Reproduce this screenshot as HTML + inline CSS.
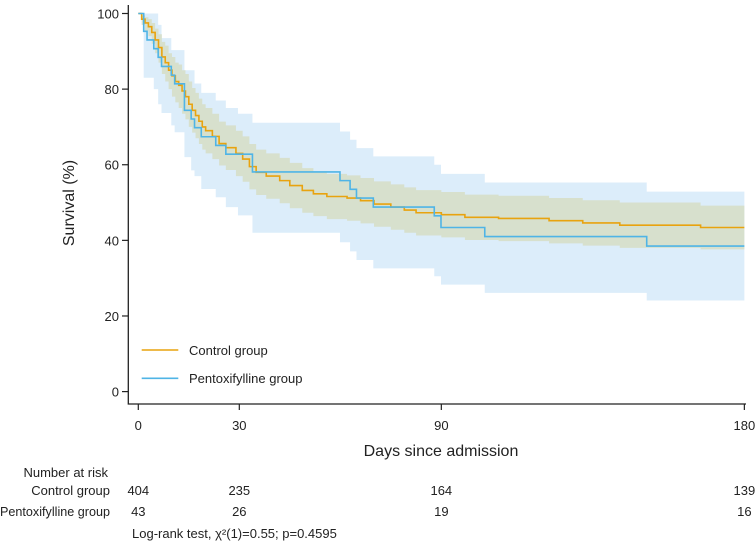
<!DOCTYPE html>
<html><head><meta charset="utf-8"><style>
html,body{margin:0;padding:0;background:#fff;}
svg{display:block;font-family:"Liberation Sans",Arial,sans-serif;}
</style></head><body>
<svg id="chart" width="756" height="542" viewBox="0 0 756 542"></svg>
<script>
const xTicks=[0,30,90,180];
const yTicks=[0,20,40,60,80,100];
// Control group KM estimate (day, survival %)
const ctrlDays=[0,1,2,3,4,5,6,7,8,9,10,11,12,13,14,15,16,17,18,19,20,22,24,26,29,31,33,35,38,42,45,48.7,52,56,62,66,70,75,79,82.5,90,97,107,122,132,143,167,180];
const ctrlSurv=[100,98.5,97.5,96.5,95,93,91,88.5,87,85,83.5,82,81,79.5,78,76,74.4,73,71.5,70,69,67.5,65.6,64.5,63,61.5,59.5,58,57,55.8,54.5,53.2,52.3,51.6,51.2,50.5,49.6,48.8,48,47.3,46.8,46.1,45.8,45.2,44.6,44,43.4,43.4];
const ctrlLow=[100,97,95.5,94,92,89.5,87,84,82,80,78,76.5,75,73.5,72,70,68.5,67,65.5,64,63,61.5,59.8,58.6,57,55.5,53.5,52,51,49.8,48.5,47.3,46.4,45.6,45.2,44.5,43.6,42.8,42,41.3,40.8,40.1,39.8,39.2,38.6,38,37.6,37.6];
const ctrlHigh=[100,99.5,99,98.5,97.5,96,94.5,92.5,91.5,89.5,88.5,87,86.5,85,84,82,80.3,79,77.5,76,75,73.5,71.4,70.4,69,67.5,65.5,64,63,61.8,60.5,59.1,58.2,57.6,57.2,56.5,55.6,54.8,54,53.3,52.8,52.1,51.8,51.2,50.6,50,49.2,49.2];
// Pentoxifylline group
const ptxDays=[0,1.6,2.6,4.6,5.9,6.9,9.8,10.8,13.7,15.7,16.7,18.7,23,26,33.9,59.9,62.9,64.8,69.8,87.9,89.9,102.9,151,180];
const ptxSurv=[100,95.3,93.0,90.7,88.4,86.0,83.7,81.4,74.4,72.1,69.8,67.4,65.1,62.8,58.1,55.8,53.5,51.2,48.8,46.5,43.4,41.0,38.5,38.5];
const ptxCiDays=[1.6,4.6,5.9,6.9,9.8,10.8,13.7,15.7,16.7,18.7,23,26,29.6,33.9,59.9,62.9,64.8,69.8,87.9,89.9,102.9,151,180];
const ptxLow=[83,80,76,73.7,70.4,68.6,62,58.5,57,53.6,51.4,48.8,46.6,42,39.5,37.1,34.8,32.6,30.5,28.3,26.1,24.1,24.1];
const ptxHigh=[100,100,97,93.5,90.3,90.3,85,85,81.5,79,77,75,73.5,71.1,68.8,66.6,64.4,62.2,60,57.6,55.3,52.9,52.9];
const riskCtrl=[404,235,164,139];
const riskPtx=[43,26,19,16];

const X0=138.3,PXD=3.367,Y0=391.6,PYU=3.781;
const xs=d=>X0+d*PXD, ys=v=>Y0-v*PYU;
const svg=document.getElementById('chart');
const NS='http://www.w3.org/2000/svg';
function mk(tag,attrs,parent){const e=document.createElementNS(NS,tag);for(const k in attrs)e.setAttribute(k,attrs[k]);(parent||svg).appendChild(e);return e;}
function stepPath(days,vals){let d='M'+xs(days[0])+','+ys(vals[0]);for(let i=1;i<days.length;i++){d+='H'+xs(days[i])+'V'+ys(vals[i]);}return d;}
function bandPath(days,lo,hi){let top='M'+xs(days[0])+','+ys(hi[0]);for(let i=1;i<days.length;i++){top+='H'+xs(days[i])+'V'+ys(hi[i]);}
 let bot='V'+ys(lo[lo.length-1]);for(let i=days.length-1;i>0;i--){bot+='H'+xs(days[i])+'V'+ys(lo[i-1]);}bot+='H'+xs(days[0])+'Z';return top+bot;}

let e;
e=mk('path',{d:bandPath(ptxCiDays,ptxLow,ptxHigh),fill:'#dcedfa'});


e=mk('path',{d:bandPath(ctrlDays,ctrlLow,ctrlHigh),fill:'#d7e0cd'});


e=mk('path',{d:stepPath(ctrlDays,ctrlSurv),fill:'none',stroke:'#e8a30f','stroke-width':1.6});


e=mk('path',{d:stepPath(ptxDays,ptxSurv),fill:'none',stroke:'#4fb4e6','stroke-width':1.6});



// axes
e=mk('path',{d:'M128.3,5V404H746',fill:'none',stroke:'#222','stroke-width':1.3});


yTicks.forEach(v=>{
 e=mk('line',{x1:122,x2:128.3,y1:ys(v),y2:ys(v),stroke:'#222','stroke-width':1.2});
 
 
 e=mk('text',{x:119,y:ys(v)+5,'text-anchor':'end','font-size':13,fill:'#222'});e.textContent=v;
 
 
});
xTicks.forEach((d,i)=>{
 e=mk('line',{x1:xs(d),x2:xs(d),y1:404,y2:410,stroke:'#222','stroke-width':1.2});
 
 
 e=mk('text',{x:xs(d),y:430,'text-anchor':'middle','font-size':13,fill:'#222'});e.textContent=d;
 
 
 e=mk('text',{x:xs(d),y:495,'text-anchor':'middle','font-size':13,fill:'#222'});e.textContent=riskCtrl[i];
 
 
 e=mk('text',{x:xs(d),y:516,'text-anchor':'middle','font-size':13,fill:'#222'});e.textContent=riskPtx[i];
 
 
});
e=mk('text',{x:441,y:456,'text-anchor':'middle','font-size':16,fill:'#222'});e.textContent='Days since admission';


e=mk('text',{x:0,y:0,'text-anchor':'middle','font-size':16,fill:'#222',transform:'translate(74,203) rotate(-90)'});e.textContent='Survival (%)';


// legend
e=mk('line',{x1:141.7,x2:178.3,y1:350,y2:350,stroke:'#e8a30f','stroke-width':1.6});


e=mk('text',{x:189,y:355,'font-size':13,fill:'#222'});e.textContent='Control group';


e=mk('line',{x1:141.7,x2:178.3,y1:378.3,y2:378.3,stroke:'#4fb4e6','stroke-width':1.6});


e=mk('text',{x:189,y:383,'font-size':13,fill:'#222'});e.textContent='Pentoxifylline group';


// risk table labels
e=mk('text',{x:108,y:477,'text-anchor':'end','font-size':13,fill:'#222'});e.textContent='Number at risk';


e=mk('text',{x:110,y:495,'text-anchor':'end','font-size':13,fill:'#222'});e.textContent='Control group';


e=mk('text',{x:110,y:516,'text-anchor':'end','font-size':13,fill:'#222','textLength':110,'lengthAdjust':'spacingAndGlyphs'});e.textContent='Pentoxifylline group';


e=mk('text',{x:132,y:538,'font-size':13,fill:'#222'});e.textContent='Log-rank test, χ²(1)=0.55; p=0.4595';


</script>
</body></html>
